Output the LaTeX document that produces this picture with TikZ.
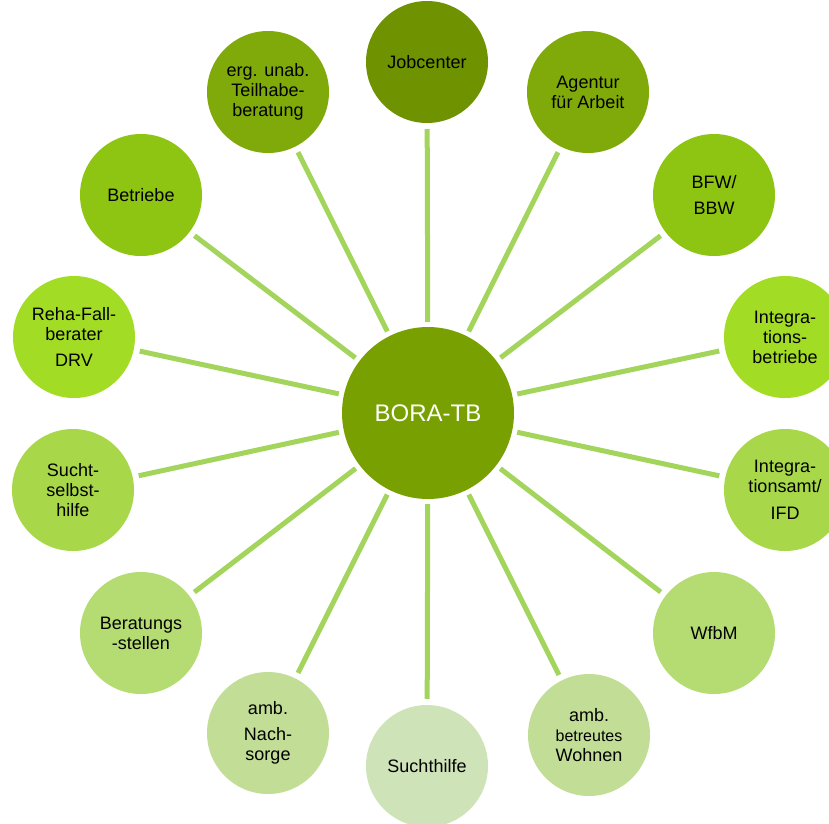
\documentclass[tikz,border=0pt]{standalone}
\usepackage{fontspec}
\setmainfont{Liberation Sans}
\usepackage{xcolor}
\usepackage{tikz}
\usetikzlibrary{positioning,backgrounds}
\definecolor{olivefonce}{HTML}{6E9200}
\definecolor{olivecentre}{HTML}{78A000}
\definecolor{olive}{HTML}{7FAA0A}
\definecolor{vertpomme}{HTML}{8EC412}
\definecolor{vertlime}{HTML}{A2DC24}
\definecolor{vertlimeclair}{HTML}{A8D84A}
\definecolor{vertpale}{HTML}{B4DC72}
\definecolor{vertpastel}{HTML}{C2DE96}
\definecolor{vertbrume}{HTML}{CEE3B8}
\definecolor{vertlien}{HTML}{A3D45C}

\begin{document}
\begin{tikzpicture}[x=1pt,y=-1pt]
                \tikzset{
                  bulle/.style={
                    circle,minimum size=122pt,inner sep=0pt,align=center,
                    font=\fontsize{18}{20}\selectfont,text=black,
                  },
                  bulle centrale/.style={bulle,minimum size=172pt,text=white,
                    font=\fontsize{24}{27}\selectfont},
                  trait/.style={
                    line width=5pt,draw=vertlien,
                    shorten >=6pt,shorten <=5pt,
                  },
                  }
                \useasboundingbox (0,0) rectangle (829,823);
                \node[bulle centrale, fill=olivecentre] (bora) at (428,413) {BORA-TB};
                \node[bulle, fill=olivefonce] (job) at (427,62) {Jobcenter};
                \node[bulle, fill=olive] (agentur) at (588,92) {Agentur\\für Arbeit};
                \node[bulle, fill=vertpomme] (bfw) at (714,195) {BFW/\\[6pt]BBW};
                \node[bulle, fill=vertlime] (intbetr) at (785,337) {Integra-\\tions-\\betriebe};
                \node[bulle, fill=vertlimeclair] (intamt) at (785,490) {Integra-\\tionsamt/\\[7pt]IFD};
                \node[bulle, fill=vertpale] (wfbm) at (714,633) {WfbM};
                \node[bulle, fill=vertpastel] (wohnen) at (589,735) {amb.\\{\fontsize{16}{18}\selectfont betreutes}\\Wohnen};
                \node[bulle, fill=vertbrume] (sucht) at (427,766) {Suchthilfe};
                \node[bulle, fill=vertpastel] (nachsorge) at (268,733) {amb.\\[6pt]Nach-\\sorge};
                \node[bulle, fill=vertpale] (beratung) at (141,633) {Beratungs\\-stellen};
                \node[bulle, fill=vertlimeclair] (selbsthilfe) at (73,490) {Sucht-\\selbst-\\hilfe};
                \node[bulle, fill=vertlime] (reha) at (74,337) {Reha-Fall-\\berater\\[6pt]DRV};
                \node[bulle, fill=vertpomme] (betriebe) at (141,195) {Betriebe};
                \node[bulle, fill=olive] (teilhabe) at (268,92) {erg. unab.\\Teilhabe-\\beratung};

                \begin{scope}[on background layer]
                    \foreach \cible in {job,agentur,bfw,intbetr,intamt,wfbm,wohnen,
                      sucht,nachsorge,beratung,selbsthilfe,reha,betriebe,teilhabe}
                      \draw[trait] (bora) -- (\cible);
                \end{scope}
              \end{tikzpicture}
\end{document}
